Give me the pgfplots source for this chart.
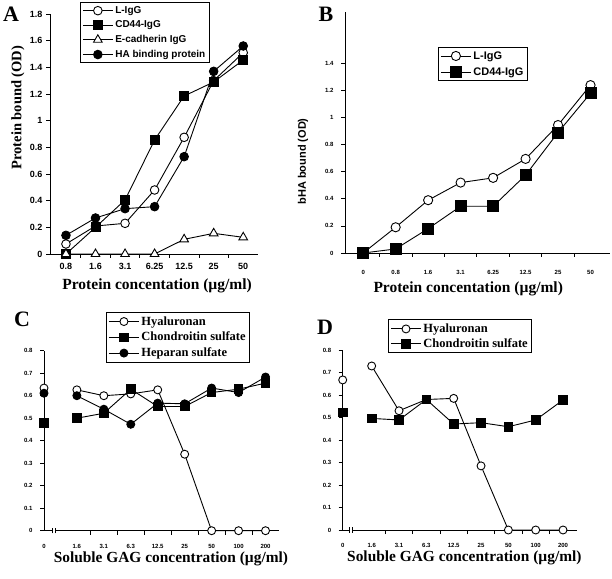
\documentclass[border=0pt]{standalone}
\usepackage{fontspec}
\setmainfont{Liberation Serif}
\newfontfamily\arial{Liberation Sans}
\usepackage{pgfplots}
\pgfplotsset{compat=1.18}

\pgfplotsset{
  panel/.style={
    scale only axis, anchor=south west, clip=false,
    axis x line=bottom, axis y line=left,
    axis line style={-, line width=0.9pt},
    tick align=outside,
    major tick length=4pt, minor tick length=4pt,
    major x tick style={draw=none},
    every tick/.style={black, line width=0.8pt},
    /pgf/number format/assume math mode=true,
    label style={font=\bfseries\fontsize{15.5}{17}\selectfont},
    every axis plot/.append style={black, line width=0.9pt},
    legend cell align=left,
    legend style={draw=black, line width=0.9pt, inner sep=2pt, row sep=1pt},
    legend image code/.code={\draw[mark repeat=2,mark phase=2,#1] plot coordinates {(0pt,0pt) (15pt,0pt) (30pt,0pt)};},
  },
  oc/.style={mark=*, mark size=4.3pt, mark options={fill=white}},
  fc/.style={mark=*, mark size=4.3pt, mark options={fill=black}},
  fs/.style={mark=square*, mark size=4.5pt, mark options={fill=black}},
  ot/.style={mark=triangle*, mark size=5pt, mark options={fill=white}},
}

\begin{document}
\begin{tikzpicture}[x=1pt,y=1pt]
\path[use as bounding box] (0pt,0pt) rectangle (612pt,578pt);

% ---- A ----
\begin{axis}[panel, at={(50pt,324pt)}, width=208pt, height=240pt,
  xmin=-0.54, xmax=6.5, ymin=0, ymax=1.8,
  xtick={0,...,6}, xticklabels={0.8,1.6,3.1,6.25,12.5,25,50},
  minor xtick={0.5,1.5,...,5.5},
  ytick={0,0.2,...,1.8},
  ticklabel style={font=\arial\bfseries\fontsize{9}{10}\selectfont},
  xticklabel style={yshift=-2pt},
  xlabel={Protein concentation (µg/ml)},
  ylabel={Protein bound (OD)},
  xlabel style={at={(axis description cs:0.515,0)}, anchor=center, yshift=-32pt},
  ylabel style={font=\bfseries\fontsize{14.5}{16}\selectfont,
    at={(axis description cs:0,0.61)}, anchor=center, yshift=32pt},
  legend style={at={(rel axis cs:0.144,1.05)}, anchor=north west,
    font=\arial\bfseries\fontsize{10}{11}\selectfont, row sep=2pt},
]
\addplot[oc] coordinates {(0,0.075) (1,0.21) (2,0.23) (3,0.48) (4,0.875) (5,1.30) (6,1.51)};
\addlegendentry{L-IgG}
\addplot[fs] coordinates {(0,0) (1,0.20) (2,0.405) (3,0.855) (4,1.185) (5,1.29) (6,1.455)};
\addlegendentry{CD44-IgG}
\addplot[ot] coordinates {(0,0) (1,0) (2,0) (3,0) (4,0.11) (5,0.155) (6,0.125)};
\addlegendentry{E-cadherin IgG}
\addplot[fc] coordinates {(0,0.14) (1,0.27) (2,0.34) (3,0.355) (4,0.73) (5,1.37) (6,1.56)};
\addlegendentry{HA binding protein}
\end{axis}

% ---- B ----
\begin{axis}[panel, at={(345pt,325pt)}, width=265pt, height=241pt,
  xmin=-0.56, xmax=7.6, ymin=0, ymax=1.78,
  xtick={0,...,7}, xticklabels={0,0.8,1.6,3.1,6.25,12.5,25,50},
  minor xtick={0.5,1.5,...,6.5},
  ytick={0,0.2,...,1.4},
  ticklabel style={font=\arial\bfseries\fontsize{6}{7}\selectfont},
  xticklabel style={yshift=-10pt},
  yticklabel style={xshift=-4pt},
  xlabel={Protein concentation (µg/ml)},
  ylabel={bHA bound (OD)},
  ylabel style={font=\arial\bfseries\fontsize{11}{12}\selectfont,
    at={(axis description cs:0,0.38)}, anchor=center, yshift=42pt},
  xlabel style={at={(axis description cs:0.465,0)}, anchor=center, yshift=-36pt},
  legend style={at={(rel axis cs:0.351,0.855)}, anchor=north west,
    font=\arial\bfseries\fontsize{11}{12}\selectfont, row sep=3pt},
]
\addplot[oc, mark size=4.6pt] coordinates {(0,0) (1,0.19) (2,0.39) (3,0.52) (4,0.555) (5,0.695) (6,0.945) (7,1.24)};
\addlegendentry{L-IgG}
\addplot[fs, mark size=5.5pt] coordinates {(0,0) (1,0.03) (2,0.18) (3,0.345) (4,0.345) (5,0.575) (6,0.89) (7,1.18)};
\addlegendentry{CD44-IgG}
\end{axis}

% ---- C ----
\begin{axis}[panel, at={(44pt,47.3pt)}, width=235pt, height=180pt,
  xmin=-1.22, xmax=7.5, ymin=0, ymax=0.8,
  xtick={-1.22,0,1,...,7}, xticklabels={0,1.6,3.1,6.3,12.5,25,50,100,200},
  minor xtick={0.5,1.5,...,6.5},
  ytick={0,0.1,...,0.8},
  ticklabel style={font=\arial\bfseries\fontsize{6}{7}\selectfont},
  xticklabel style={yshift=-6pt},
  yticklabel style={xshift=-4pt},
  xlabel={Soluble GAG concentration (µg/ml)},
  xlabel style={font=\bfseries\fontsize{15.4}{17}\selectfont,
    at={(axis description cs:0.54,0)}, anchor=center, yshift=-28pt},
  legend style={at={(rel axis cs:0.264,1.215)}, anchor=north west,
    font=\bfseries\fontsize{12.5}{13}\selectfont, row sep=1.5pt},
]
\addplot[oc, mark size=4pt] coordinates {(0,0.626) (1,0.60) (2,0.608) (3,0.626) (4,0.34) (5,0) (6,0) (7,0)};
\addlegendentry{Hyaluronan}
\addplot[fs, mark size=4.3pt] coordinates {(0,0.50) (1,0.522) (2,0.629) (3,0.552) (4,0.552) (5,0.614) (6,0.629) (7,0.656)};
\addlegendentry{Chondroitin sulfate}
\addplot[fc, mark size=4pt] coordinates {(0,0.60) (1,0.54) (2,0.473) (3,0.567) (4,0.564) (5,0.634) (6,0.614) (7,0.683)};
\addlegendentry{Heparan sulfate}
\addplot[oc, mark size=4pt, only marks, forget plot] coordinates {(-1.22,0.634)};
\addplot[fs, mark size=4.3pt, only marks, forget plot] coordinates {(-1.22,0.478)};
\addplot[fc, mark size=4pt, only marks, forget plot] coordinates {(-1.22,0.611)};
\fill[white] (axis cs:-0.92,-0.01) rectangle (axis cs:-0.81,0.01);
\draw[line width=0.8pt] (axis cs:-0.92,-0.012) -- (axis cs:-0.92,0.012)
  (axis cs:-0.81,-0.012) -- (axis cs:-0.81,0.012);
\end{axis}

% ---- D ----
\begin{axis}[panel, at={(342.7pt,48pt)}, width=234pt, height=180pt,
  xmin=-1.06, xmax=7.5, ymin=0, ymax=0.8,
  xtick={-1.06,0,1,...,7}, xticklabels={0,1.6,3.1,6.3,12.5,25,50,100,200},
  minor xtick={0.5,1.5,...,6.5},
  ytick={0,0.1,...,0.8},
  ticklabel style={font=\arial\bfseries\fontsize{6}{7}\selectfont},
  xticklabel style={yshift=-6pt},
  yticklabel style={xshift=-4pt},
  xlabel={Soluble GAG concentration (µg/ml)},
  xlabel style={font=\bfseries\fontsize{15.4}{17}\selectfont,
    at={(axis description cs:0.52,0)}, anchor=center, yshift=-28pt},
  legend style={at={(rel axis cs:0.194,1.17)}, anchor=north west,
    font=\bfseries\fontsize{12.5}{13}\selectfont, row sep=0.5pt},
]
\addplot[oc, mark size=4pt] coordinates {(0,0.729) (1,0.53) (2,0.58) (3,0.585) (4,0.285) (5,0) (6,0) (7,0)};
\addlegendentry{Hyaluronan}
\addplot[fs, mark size=4.3pt] coordinates {(0,0.496) (1,0.489) (2,0.58) (3,0.471) (4,0.477) (5,0.459) (6,0.489) (7,0.578)};
\addlegendentry{Chondroitin sulfate}
\addplot[oc, mark size=4pt, only marks, forget plot] coordinates {(-1.06,0.667)};
\addplot[fs, mark size=4.3pt, only marks, forget plot] coordinates {(-1.06,0.523)};
\fill[white] (axis cs:-0.80,-0.01) rectangle (axis cs:-0.69,0.01);
\draw[line width=0.8pt] (axis cs:-0.80,-0.012) -- (axis cs:-0.80,0.012)
  (axis cs:-0.69,-0.012) -- (axis cs:-0.69,0.012);
\end{axis}

% panel letters
\node[font=\bfseries\fontsize{22}{24}\selectfont] at (11pt,564pt) {A};
\node[font=\bfseries\fontsize{22}{24}\selectfont] at (326pt,564pt) {B};
\node[font=\bfseries\fontsize{22}{24}\selectfont] at (22pt,259pt) {C};
\node[font=\bfseries\fontsize{22}{24}\selectfont] at (325pt,251pt) {D};
\end{tikzpicture}
\end{document}
